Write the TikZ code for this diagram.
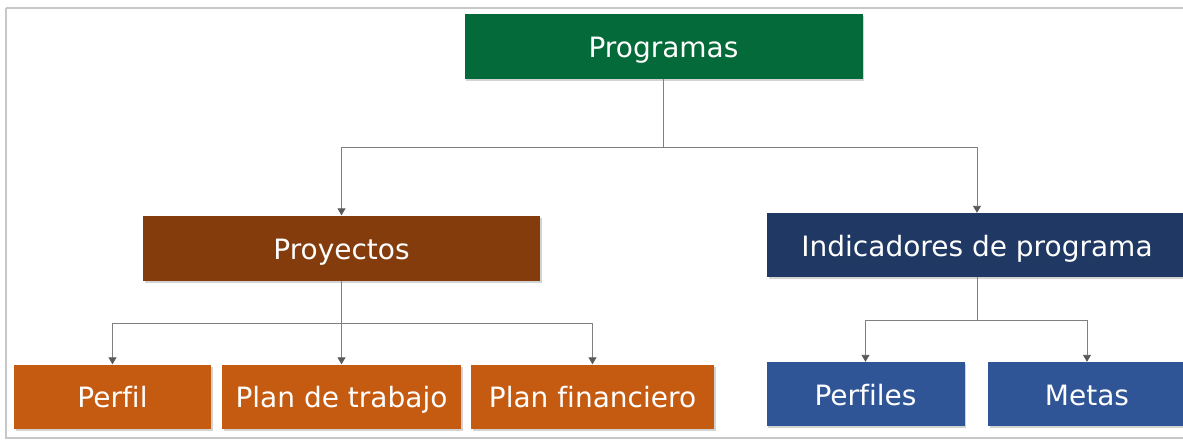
\documentclass[tikz,border=0pt]{standalone}
\usepackage[table]{xcolor}
\usepackage{tikz}
\usetikzlibrary{arrows.meta,backgrounds,calc,shadows}
\usepackage{fontspec}
\setmainfont[Ligatures=NoCommon]{DejaVu Sans}
\definecolor{verdeprog}{RGB}{5,106,57}
\definecolor{cafeproy}{RGB}{132,60,12}
\definecolor{naranjasub}{RGB}{197,90,17}
\definecolor{azulind}{RGB}{32,56,100}
\definecolor{azulsub}{RGB}{47,85,151}
\definecolor{marco}{RGB}{200,200,200}
\definecolor{linea}{RGB}{128,128,128}

\begin{document}
\begin{tikzpicture}[x=1pt,y=-1pt,
  caja/.style={rectangle,text=white,inner sep=0pt,minimum height=64pt,
    font=\fontsize{28}{34}\selectfont,text height=28pt,text depth=6pt,
    drop shadow={shadow xshift=1.5pt,shadow yshift=-2pt,opacity=0.35}},
  link/.style={draw=linea,line width=0.9pt,
    -{Triangle[length=7pt,width=8pt,fill=black!65,color=black!65]}}]
\useasboundingbox (0,0) rectangle (1183,440);
\draw[marco,line width=2pt] (6,8) -- (6,438) -- (1195,438);
\draw[marco,line width=2pt] (6,8) -- (1195,8);
% nivel 1
\node[caja,fill=verdeprog,minimum width=398pt,minimum height=65pt] (prog) at (663.5,46.5) {Programas};
% nivel 2
\node[caja,fill=cafeproy,minimum width=397pt,minimum height=65pt] (proy) at (341.5,248) {Proyectos};
\node[caja,fill=azulind,minimum width=420pt] (ind) at (977,245) {Indicadores de programa};
% nivel 3
\node[caja,fill=naranjasub,minimum width=197pt] (perfil) at (112.5,396.5) {Perfil};
\node[caja,fill=naranjasub,minimum width=239pt] (trabajo) at (341.5,396.5) {Plan de trabajo};
\node[caja,fill=naranjasub,minimum width=243pt] (financiero) at (592.5,396.5) {Plan financiero};
\node[caja,fill=azulsub,minimum width=198pt] (perfiles) at (865.5,394) {Perfiles};
\node[caja,fill=azulsub,minimum width=198pt] (metas) at (1087,394) {Metas};
% uniones
\coordinate (jprog) at (663.5,147);
\coordinate (jproy) at (341.5,323);
\coordinate (jind) at (977,320);
\draw[draw=linea,line width=0.9pt] (prog.south) -- (jprog);
\draw[link] (jprog) -| (proy.north);
\draw[link] (jprog) -| (ind.north);
\draw[draw=linea,line width=0.9pt] (proy.south) -- (jproy);
\draw[link] (jproy) -| (perfil.north);
\draw[link] (jproy) -- (trabajo.north);
\draw[link] (jproy) -| (financiero.north);
\draw[draw=linea,line width=0.9pt] (ind.south) -- (jind);
\draw[link] (jind) -| (perfiles.north);
\draw[link] (jind) -| (metas.north);
\end{tikzpicture}
\end{document}
